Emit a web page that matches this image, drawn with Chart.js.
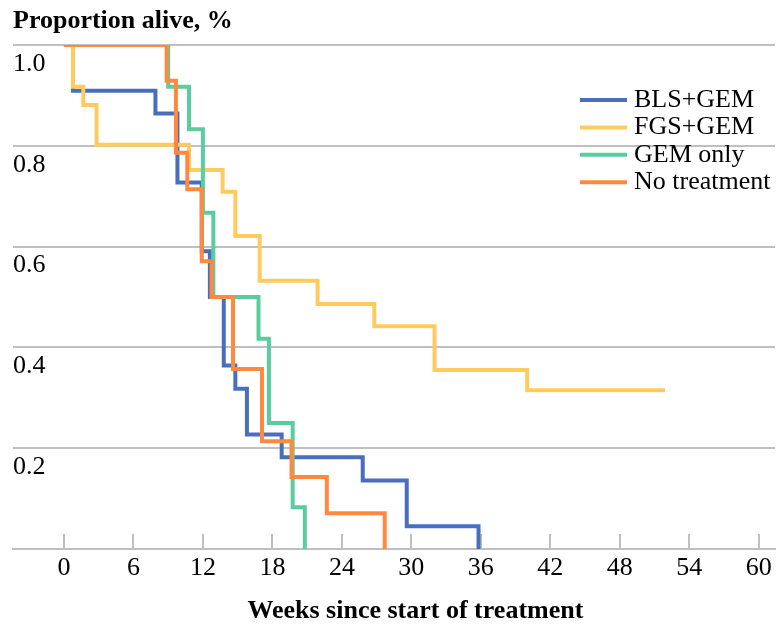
<!DOCTYPE html>
<html>
<head>
  <title>Proportion alive</title>
  <script src="https://cdn.jsdelivr.net/npm/chart.js"></script>
  <style>
    body { margin: 0; background: #fff; }
    #wrap { width: 778px; height: 625px; }
  </style>
</head>
<body>
  <div id="wrap"><canvas id="survChart" width="778" height="625"></canvas></div>

  <script>
    const groupNames = ['BLS+GEM', 'FGS+GEM', 'GEM only', 'No treatment'];
    const groupColors = ['#4a6ebe', '#ffcb5e', '#5acd9f', '#ff8a3f'];

    // step curves: week of each drop and proportion alive after it
    const blsWeeks = [0, 0.78, 7.9, 9.8, 11.9, 12.6, 13.8, 14.8, 15.8, 18.8, 25.8, 29.6, 35.8];
    const blsAlive = [1, 0.909, 0.864, 0.727, 0.591, 0.5, 0.364, 0.318, 0.227, 0.182, 0.136, 0.045, 0];

    const fgsWeeks = [0, 0.78, 1.67, 2.82, 10.8, 13.7, 14.8, 16.9, 21.9, 26.8, 32.0, 40.0, 51.9];
    const fgsAlive = [1, 0.917, 0.881, 0.802, 0.752, 0.709, 0.621, 0.532, 0.486, 0.442, 0.355, 0.315, 0.315];

    const gemWeeks = [0, 9.0, 10.8, 12.0, 12.9, 16.8, 17.7, 19.75, 20.8];
    const gemAlive = [1, 0.917, 0.833, 0.667, 0.5, 0.417, 0.25, 0.083, 0];

    const noWeeks = [0, 8.87, 9.67, 10.65, 11.9, 12.75, 14.6, 17.1, 19.65, 22.7, 27.7];
    const noAlive = [1, 0.929, 0.786, 0.714, 0.571, 0.5, 0.357, 0.214, 0.143, 0.071, 0];

    const xTicks = [0, 6, 12, 18, 24, 30, 36, 42, 48, 54, 60];
    const yTicks = [0, 0.2, 0.4, 0.6, 0.8, 1.0];

    const xTitle = 'Weeks since start of treatment';
    const serif = 'Liberation Serif, Times New Roman, serif';
    const gridGrey = '#bfbfbf';

    function toPoints(weeks, alive) {
      return weeks.map((w, i) => ({ x: w, y: alive[i] }));
    }

    const curves = [
      toPoints(blsWeeks, blsAlive),
      toPoints(fgsWeeks, fgsAlive),
      toPoints(gemWeeks, gemAlive),
      toPoints(noWeeks, noAlive)
    ];

    // short upward tick marks on the x axis
    const innerTicks = {
      id: 'innerTicks',
      beforeDatasetsDraw(chart) {
        const ctx = chart.ctx;
        const xs = chart.scales.x;
        const bottom = chart.chartArea.bottom;
        ctx.save();
        ctx.strokeStyle = gridGrey;
        ctx.lineWidth = 2;
        xTicks.forEach(v => {
          const px = Math.round(xs.getPixelForValue(v));
          ctx.beginPath();
          ctx.moveTo(px, bottom);
          ctx.lineTo(px, bottom - 15);
          ctx.stroke();
        });
        ctx.restore();
      }
    };

    // legend inside the plot (top right) and the x axis title,
    // centred under the 0..60 tick range rather than the whole axis
    const annotations = {
      id: 'annotations',
      afterDraw(chart) {
        const ctx = chart.ctx;
        const xs = chart.scales.x;
        ctx.save();
        ctx.font = '26px ' + serif;
        ctx.textBaseline = 'middle';
        ctx.textAlign = 'left';
        groupNames.forEach((name, i) => {
          const y = 100 + i * 27.4;
          ctx.strokeStyle = groupColors[i];
          ctx.lineWidth = 4;
          ctx.beginPath();
          ctx.moveTo(580, y);
          ctx.lineTo(627, y);
          ctx.stroke();
          ctx.fillStyle = '#000';
          ctx.fillText(name, 634, y);
        });

        const mid = (xs.getPixelForValue(xTicks[0]) + xs.getPixelForValue(xTicks[xTicks.length - 1])) / 2;
        ctx.font = 'bold 26px ' + serif;
        ctx.textAlign = 'center';
        ctx.textBaseline = 'alphabetic';
        ctx.fillText(xTitle, mid + 4, 618);
        ctx.restore();
      }
    };

    new Chart(document.getElementById('survChart'), {
      type: 'line',
      data: {
        datasets: curves.map((pts, i) => ({
          label: groupNames[i],
          data: pts,
          borderColor: groupColors[i],
          backgroundColor: groupColors[i],
          borderWidth: 4,
          stepped: 'before',
          pointRadius: 0,
          fill: false,
          order: 4 - i
        }))
      },
      options: {
        responsive: false,
        animation: false,
        devicePixelRatio: 1,
        layout: { padding: { left: 13, right: 3, top: 0, bottom: 36.8 } },
        plugins: {
          legend: { display: false },
          tooltip: { enabled: false },
          title: {
            display: true,
            text: 'Proportion alive, %',
            align: 'start',
            color: '#000',
            font: { family: serif, size: 26, weight: 'bold' },
            padding: { top: 6, bottom: 7.8 }
          }
        },
        scales: {
          x: {
            type: 'linear',
            min: -4.4,
            max: 61.4,
            afterBuildTicks: s => { s.ticks = xTicks.map(v => ({ value: v })); },
            grid: { display: false, drawTicks: false },
            border: { display: true, color: gridGrey, width: 2 },
            ticks: {
              color: '#000',
              font: { family: serif, size: 26 },
              padding: 4,
              maxRotation: 0,
              autoSkip: false
            }
          },
          y: {
            type: 'linear',
            min: 0,
            max: 1,
            afterBuildTicks: s => { s.ticks = yTicks.map(v => ({ value: v })); },
            grid: { color: gridGrey, lineWidth: 2, drawTicks: false },
            border: { display: false },
            ticks: {
              mirror: true,
              padding: 0,
              labelOffset: 19,
              color: '#000',
              font: { family: serif, size: 26 },
              callback: v => (v === 0 ? '' : v.toFixed(1))
            }
          }
        }
      },
      plugins: [innerTicks, annotations]
    });
  </script>
</body>
</html>
